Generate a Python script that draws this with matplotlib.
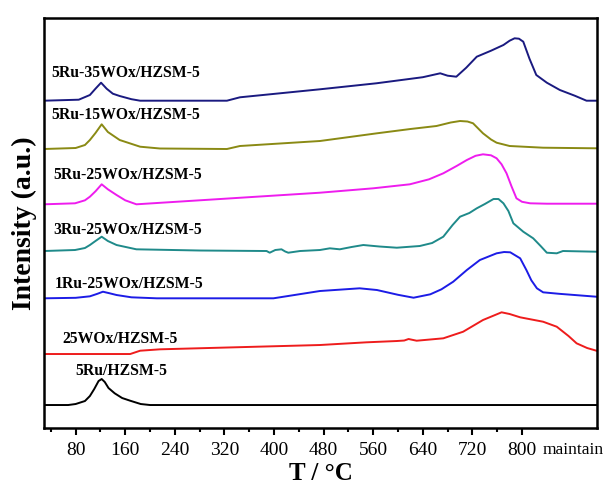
import matplotlib
matplotlib.use("Agg")
import matplotlib.pyplot as plt
from matplotlib.ticker import FixedLocator

plt.rcParams['font.family'] = ['Liberation Serif', 'DejaVu Serif']

# temperature (deg C) / intensity (a.u.) pairs, per sample
t_black = [29, 68, 80, 95, 103, 110, 117, 122, 127, 133, 143, 155, 168, 185, 200, 920]
i_black = [0, 0, 1, 4, 9, 16, 24, 26, 23, 17, 11.7, 7, 4.3, 1, 0, 0]

t_red = [29, 168, 184, 216, 474, 549, 598, 610, 617, 630, 673, 705, 737, 767, 780, 797, 834, 856, 875, 888, 905, 920]
i_red = [0, 0, 3.3, 4.7, 9, 11.7, 13, 13.5, 15, 13.3, 15.7, 22.3, 34, 41.7, 40, 36.7, 32.3, 27.3, 18, 10.7, 6, 3.3]

t_blue = [29, 80, 103, 115, 124, 135, 146, 170, 211, 399, 474, 538, 566, 600, 625, 652, 670, 689, 711, 732, 759, 771,
          781, 797, 807, 815, 824, 834, 860, 920]
i_blue = [0, 0.5, 2, 4.5, 6.6, 5, 3.3, 1, 0, 0, 7.3, 10, 8.3, 3.5, 0.6, 4, 9, 16.6, 28.3, 38.3, 45, 46.3,
          46, 40, 28.3, 18, 10, 6, 4.5, 1.6]

t_teal = [29, 79, 95, 103, 112, 122, 132, 146, 178, 280, 388, 393, 402, 412, 418, 423, 442, 474, 490, 506, 525, 544,
          570, 598, 635, 655, 673, 688, 700, 715, 727, 740, 754, 762, 770, 778, 786, 802, 818, 830, 840, 856, 866, 920]
i_teal = [0, 1, 3, 6, 10, 14.3, 10, 6, 1.7, 0.5, 0, -1.7, 1, 1.7, -0.5, -1.7, 0, 1, 2.7, 1.7, 4, 6,
          4.5, 3.3, 5, 8, 14.3, 26, 34.3, 38, 42.7, 47, 52, 52, 47.7, 40, 27.7, 19.3, 12.7, 5, -1.7, -2.3, 0, -0.7]

t_magenta = [29, 79, 95, 103, 112, 122, 132, 146, 160, 178, 474, 560, 619, 650, 673, 695, 711, 725, 737, 750, 759,
             767, 775, 783, 791, 800, 813, 840, 920]
i_magenta = [0, 1, 4, 7.6, 13, 20, 15, 9.3, 4, 0, 11.6, 16, 20, 25, 31, 38.5, 44.3, 48.5, 50, 49, 46,
             40, 31, 18, 6, 2.5, 1, 0.6, 0.6]

t_olive = [29, 80, 95, 103, 112, 122, 132, 151, 184, 216, 324, 345, 474, 566, 620, 662, 685, 700, 712, 721, 737, 750,
           759, 780, 834, 920]
i_olive = [0, 1, 4, 9, 16, 24.7, 17, 9, 2.3, 0.5, 0, 3, 8, 15.7, 20, 23, 26.5, 28, 27.5, 25.7, 15.7, 9.5,
           6.3, 3, 1.3, 0.7]

t_navy = [29, 85, 103, 112, 121, 130, 140, 151, 170, 184, 324, 345, 474, 565, 640, 668, 680, 694, 710, 727, 750, 770,
          780, 788, 795, 802, 812, 823, 840, 861, 885, 904, 920]
i_navy = [0, 1, 5.7, 12, 18, 12, 7, 4.7, 1.5, 0, 0, 3.4, 11.4, 17.4, 23.5, 27.4, 25, 24, 33, 44, 50, 55.7,
          60, 62.4, 62, 59, 42, 25.7, 18, 10.7, 5, 0, 0]

samples = ['5Ru/HZSM-5', '25WOx/HZSM-5', '1Ru-25WOx/HZSM-5', '3Ru-25WOx/HZSM-5',
           '5Ru-25WOx/HZSM-5', '5Ru-15WOx/HZSM-5', '5Ru-35WOx/HZSM-5']
temps = [t_black, t_red, t_blue, t_teal, t_magenta, t_olive, t_navy]
intens = [i_black, i_red, i_blue, i_teal, i_magenta, i_olive, i_navy]

# vertical stacking and label placement
offsets = [23, 74, 129.7, 177, 223.7, 279, 327.3]
label_xy = [(79, 57.3), (59, 88.7), (46.6, 144), (43.4, 198), (43.4, 253), (41.3, 313), (41.3, 354.7)]
colors = ['#000000', '#ee1c1c', '#1c1ce6', '#1f8a8a', '#ee1cee', '#8a8a14', '#1a1a80']

tick_pos = [80, 160, 240, 320, 400, 480, 560, 640, 720, 800, 882]
tick_lab = ['80', '160', '240', '320', '400', '480', '560', '640', '720', '800', 'maintain']

fig = plt.figure(figsize=(6.08, 4.93), dpi=100)
ax = fig.add_axes([0.0724, 0.1318, 0.9096, 0.8317])

for t, y, off, c, name, (lx, ly) in zip(temps, intens, offsets, colors, samples, label_xy):
    ax.plot(t, [v + off for v in y], color=c, linewidth=1.4)
    ax.text(lx, ly, name, fontsize=11.3, fontweight='bold', ha='left', va='center')

ax.set_xlim(29, 921)
ax.set_ylim(0, 410)
ax.set_yticks([])
ax.xaxis.set_major_locator(FixedLocator(tick_pos))
ax.set_xticklabels(tick_lab)
ax.xaxis.set_minor_locator(FixedLocator(list(range(40, 800, 80))))
ax.tick_params(axis='x', which='major', direction='out', length=5, width=1.5, labelsize=14, pad=5)
ax.tick_params(axis='x', which='minor', direction='out', length=3, width=1.5)

# "maintain" has no tick mark and a slightly smaller label
last = ax.xaxis.get_major_ticks()[-1]
last.tick1line.set_visible(False)
last.label1.set_fontsize(12.5)

for s in ax.spines.values():
    s.set_linewidth(1.8)

ax.set_xlabel('T / \u00b0C', fontsize=18, fontweight='bold', labelpad=2)
ax.set_ylabel('Intensity (a.u.)', fontsize=20, fontweight='bold', labelpad=5)

fig.savefig('out.png', dpi=100)
